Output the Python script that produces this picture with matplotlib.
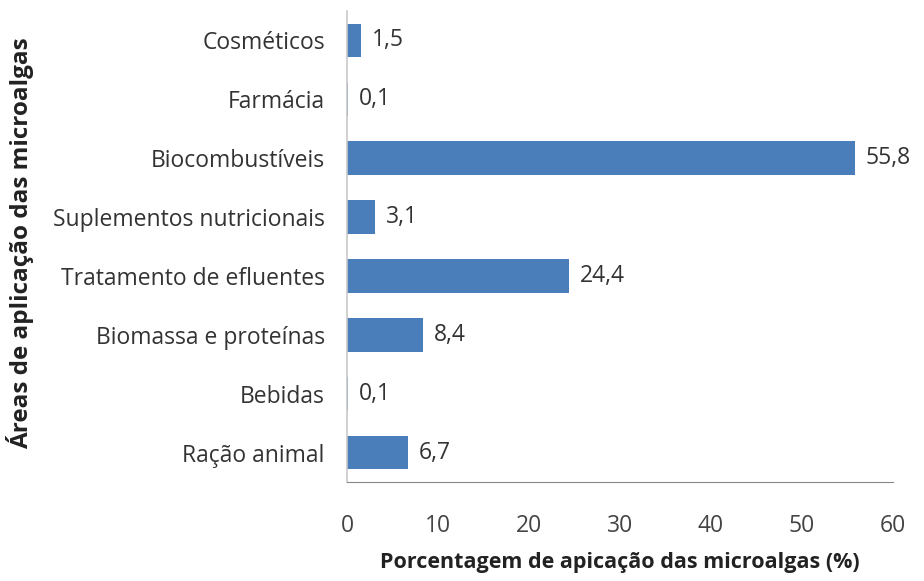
import matplotlib.pyplot as plt

categorias = ["Cosméticos", "Farmácia", "Biocombustíveis", "Suplementos nutricionais",
              "Tratamento de efluentes", "Biomassa e proteínas", "Bebidas", "Ração animal"]
valores = [1.5, 0.1, 55.8, 3.1, 24.4, 8.4, 0.1, 6.7]
rotulos = ["1,5", "0,1", "55,8", "3,1", "24,4", "8,4", "0,1", "6,7"]
xticks = [0, 10, 20, 30, 40, 50, 60]

plt.rcParams['font.family'] = ['Open Sans', 'DejaVu Sans']

fig = plt.figure(figsize=(9.24, 5.81), dpi=100)
ax = fig.add_axes([347 / 924, 1 - 482 / 581, (893 - 347) / 924, (482 - 11) / 581])

y = list(range(len(categorias)))[::-1]
ax.barh(y, valores, height=0.57, color='#4a7ebb')
for yi, v, r in zip(y, valores, rotulos):
    ax.text(v + 1.2, yi, r, va='center', ha='left', fontsize=16.5, color='#333333')

ax.set_xlim(0, 60)
ax.set_ylim(-0.5, len(categorias) - 0.5)
ax.set_yticks(y)
ax.set_yticklabels(categorias, fontsize=16.5, color='#333333')
ax.set_xticks(xticks)
ax.set_xticklabels([str(t) for t in xticks], fontsize=16.5, color='#444444')
ax.tick_params(axis='both', length=0)
ax.tick_params(axis='x', pad=23)
ax.tick_params(axis='y', pad=16)

for s in ['top', 'right']:
    ax.spines[s].set_visible(False)
ax.spines['left'].set_color('#c8c8c8')
ax.spines['bottom'].set_color('#888888')
ax.spines['left'].set_linewidth(1.2)

ax.set_xlabel("Porcentagem de apicação das microalgas (%)", fontsize=15.5,
              fontweight='bold', color='#222222', labelpad=10)
fig.text(20 / 924, 1 - 243 / 581, "Áreas de aplicação das microalgas", rotation=90,
         fontsize=17.5, fontweight='bold', color='#222222', ha='center', va='center')

fig.savefig('out.png', dpi=100)
